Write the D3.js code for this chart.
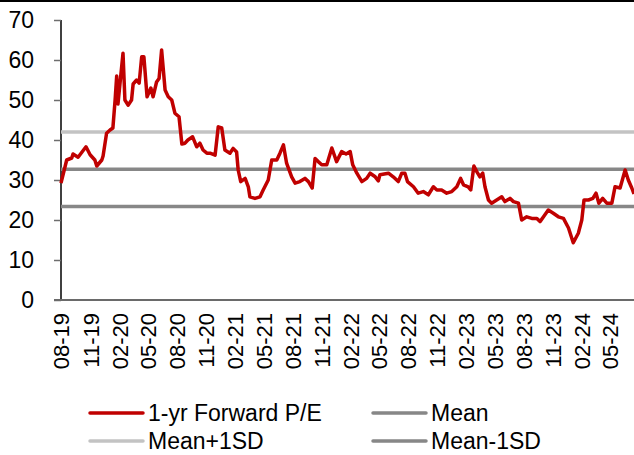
<!DOCTYPE html>
<html>
<head>
<meta charset="utf-8">
<script src="https://cdn.jsdelivr.net/npm/d3@7"></script>
<style>
  html, body { margin: 0; padding: 0; background: #fff; }
  svg { display: block; font-family: "Liberation Sans", Arial, sans-serif; }
</style>
</head>
<body>
<svg id="chart"></svg>
<script>
// 1-yr forward P/E (date, value)
const peDates = [
  "2019-08-01","2019-08-19","2019-09-04","2019-09-08","2019-09-24","2019-10-19","2019-11-01","2019-11-16",
  "2019-11-22","2019-12-08","2019-12-12","2019-12-23","2020-01-03","2020-01-12","2020-01-19","2020-01-24",
  "2020-01-28","2020-02-13","2020-02-19","2020-02-29","2020-03-11","2020-03-16","2020-03-27","2020-04-04",
  "2020-04-12","2020-04-19","2020-04-29","2020-05-11","2020-05-18","2020-05-29","2020-06-06","2020-06-14",
  "2020-06-25","2020-07-05","2020-07-16","2020-07-26","2020-08-08","2020-08-17","2020-08-27","2020-09-05",
  "2020-09-20","2020-10-03","2020-10-13","2020-10-23","2020-11-04","2020-11-14","2020-11-30","2020-12-10",
  "2020-12-21","2020-12-31","2021-01-16","2021-01-26","2021-02-06","2021-02-11","2021-02-19","2021-03-05",
  "2021-03-15","2021-03-20","2021-04-05","2021-04-21","2021-05-01","2021-05-17","2021-05-28","2021-06-13",
  "2021-06-23","2021-07-04","2021-07-14","2021-07-30","2021-08-10","2021-08-25","2021-09-10","2021-09-21",
  "2021-10-03","2021-10-12","2021-10-22","2021-11-02","2021-11-18","2021-12-04","2021-12-19","2022-01-04",
  "2022-01-18","2022-01-31","2022-02-08","2022-02-21","2022-03-09","2022-03-24","2022-04-04","2022-04-20",
  "2022-04-30","2022-05-05","2022-06-01","2022-06-16","2022-07-02","2022-07-13","2022-07-23","2022-07-31",
  "2022-08-19","2022-09-03","2022-09-19","2022-10-05","2022-10-21","2022-11-01","2022-11-16","2022-12-02",
  "2022-12-18","2023-01-03","2023-01-15","2023-01-24","2023-02-08","2023-02-16","2023-02-26","2023-03-07",
  "2023-03-17","2023-03-26","2023-04-02","2023-04-13","2023-04-23","2023-05-09","2023-05-25","2023-06-04",
  "2023-06-20","2023-07-01","2023-07-17","2023-07-27","2023-08-12","2023-08-28","2023-09-13","2023-09-23",
  "2023-10-04","2023-10-19","2023-11-04","2023-11-20","2023-12-06","2023-12-22","2024-01-06","2024-01-22",
  "2024-02-02","2024-02-09","2024-02-23","2024-03-08","2024-03-18","2024-03-27","2024-04-08","2024-04-21",
  "2024-05-07","2024-05-17","2024-06-02","2024-06-18","2024-06-28","2024-07-09","2024-07-16"
];
const peValues = [
  29.2,35.0,35.5,36.5,35.7,38.3,36.3,35.0,
  33.5,35.0,36.0,41.7,42.5,43.0,50.0,56.0,
  49.0,61.7,50.0,48.7,50.0,54.0,55.0,54.2,
  60.8,60.8,50.8,53.0,50.8,54.5,55.4,62.5,
  52.5,50.8,50.0,46.7,45.8,39.0,39.2,40.0,
  40.8,38.3,39.2,37.5,36.7,36.7,36.2,43.3,
  43.0,37.5,36.7,37.9,37.0,32.5,29.6,30.4,
  28.3,25.8,25.4,25.8,27.5,30.0,35.0,35.0,
  36.7,38.8,34.2,30.8,29.2,29.6,30.4,29.6,
  28.0,35.4,34.6,33.8,33.8,38.0,34.6,37.1,
  36.5,37.1,33.8,31.7,29.6,30.4,31.7,30.8,
  29.8,31.3,31.7,30.8,29.6,31.7,31.7,29.6,
  28.3,26.7,27.1,26.3,28.3,27.5,27.5,26.7,
  27.1,28.3,30.4,28.8,28.3,27.5,33.5,32.1,
  30.8,31.7,28.3,25.0,24.2,25.0,25.8,24.6,
  25.4,24.6,24.2,20.0,20.8,20.4,20.4,19.6,
  20.8,22.5,21.7,20.8,20.4,18.0,14.3,16.7,
  20.0,25.0,25.0,25.4,26.7,24.2,25.4,24.2,
  24.2,28.3,28.0,32.5,30.0,28.0,26.5
];

// reference levels
const refNames  = ["Mean", "Mean+1SD", "Mean-1SD"];
const refValues = [32.7, 42.0, 23.4];

const yTicks = [0, 10, 20, 30, 40, 50, 60, 70];
// quarterly labels, Aug-19 .. May-24
const xTickStart = "2019-08-01", xTickEnd = "2024-06-01";

const width = 634, height = 455;
const margin = { left: 61, right: 0, top: 20, bottom: 155 };

const parse = d3.timeParse("%Y-%m-%d");
const peData = peDates.map((d, i) => ({ date: parse(d), value: peValues[i] }));
const xTicks = d3.timeMonth.range(parse(xTickStart), parse(xTickEnd), 3);

const red = "#C00000";
const refColor = { "Mean": "#878787", "Mean+1SD": "#C3C3C3", "Mean-1SD": "#878787" };

const svg = d3.select("#chart")
  .attr("width", width)
  .attr("height", height)
  .attr("viewBox", [0, 0, width, height]);

// black rule along the top edge
svg.append("rect")
  .attr("x", 0).attr("y", 0)
  .attr("width", width).attr("height", 2)
  .attr("fill", "#000");

const x = d3.scaleTime()
  .domain([parse("2019-08-01"), parse("2024-07-16")])
  .range([margin.left, width - margin.right]);

const y = d3.scaleLinear()
  .domain([0, 70])
  .range([height - margin.bottom, margin.top]);

// y axis
const yAxis = svg.append("g")
  .attr("transform", `translate(${margin.left},0)`)
  .call(d3.axisLeft(y).tickValues(yTicks).tickSize(7).tickPadding(20).tickFormat(d3.format("d")));
yAxis.select(".domain").attr("stroke", "#000").attr("stroke-width", 1.5)
  .attr("d", `M0,${y(70)}V${y(0)}`);
yAxis.selectAll(".tick line").attr("stroke", "#6e6e6e").attr("stroke-width", 1.5);
yAxis.selectAll(".tick text")
  .attr("fill", "#000")
  .style("font-size", "23px");

// x axis
const xAxis = svg.append("g")
  .attr("transform", `translate(0,${y(0)})`)
  .call(d3.axisBottom(x).tickValues(xTicks).tickSize(0).tickFormat(d3.timeFormat("%m-%y")));
xAxis.select(".domain").remove();
xAxis.selectAll(".tick text")
  .attr("fill", "#000")
  .style("font-size", "22px")
  .attr("text-anchor", "end")
  .attr("transform", "translate(0,13) rotate(-90)")
  .attr("x", 0)
  .attr("y", 0)
  .attr("dy", "0.36em");

svg.append("line")
  .attr("x1", margin.left - 7).attr("x2", width)
  .attr("y1", y(0)).attr("y2", y(0))
  .attr("stroke", "#6a6a6a").attr("stroke-width", 2);

// reference lines
svg.append("g")
  .selectAll("line")
  .data(refNames.map((n, i) => ({ name: n, value: refValues[i] })))
  .join("line")
  .attr("x1", x.range()[0])
  .attr("x2", x.range()[1])
  .attr("y1", d => y(d.value))
  .attr("y2", d => y(d.value))
  .attr("stroke", d => refColor[d.name])
  .attr("stroke-width", 3.5);

// P/E line
svg.append("path")
  .datum(peData)
  .attr("fill", "none")
  .attr("stroke", red)
  .attr("stroke-width", 3.5)
  .attr("stroke-linejoin", "round")
  .attr("d", d3.line().x(d => x(d.date)).y(d => y(d.value)));

// legend
const legendItems = [
  { label: "1-yr Forward P/E", color: red, col: 0, row: 0 },
  { label: "Mean", color: refColor["Mean"], col: 1, row: 0 },
  { label: "Mean+1SD", color: refColor["Mean+1SD"], col: 0, row: 1 },
  { label: "Mean-1SD", color: refColor["Mean-1SD"], col: 1, row: 1 }
];
const legend = svg.append("g")
  .selectAll("g")
  .data(legendItems)
  .join("g")
  .attr("transform", d => `translate(${d.col === 0 ? 90 : 373},${413 + d.row * 28})`);
legend.append("line")
  .attr("x1", 0).attr("x2", 53)
  .attr("stroke", d => d.color)
  .attr("stroke-width", 3.5)
  .attr("stroke-linecap", "round");
legend.append("text")
  .attr("x", 58)
  .attr("dy", "0.36em")
  .style("font-size", "23px")
  .attr("fill", "#000")
  .text(d => d.label);
</script>
</body>
</html>
